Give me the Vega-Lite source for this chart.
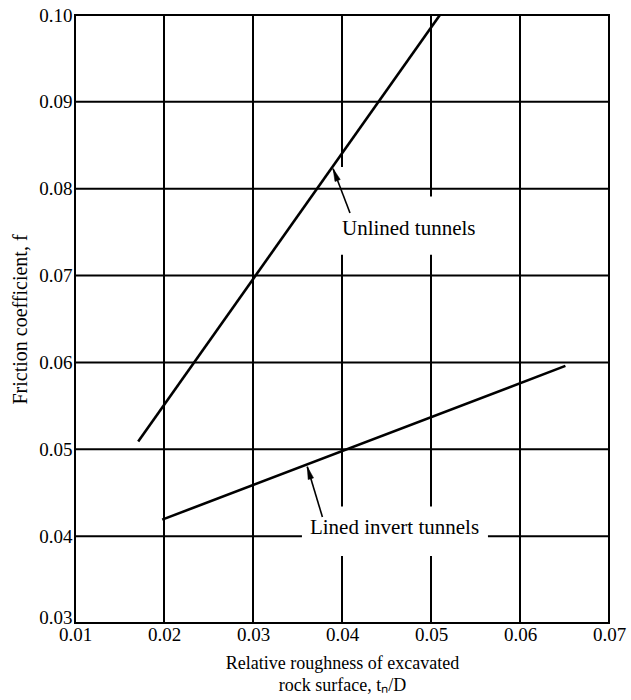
{
  "$schema": "https://vega.github.io/schema/vega-lite/v6.json",
  "width": 534,
  "height": 608,
  "autosize": {"type": "none"},
  "padding": {"left": 75, "top": 15, "right": 22, "bottom": 77},
  "background": "white",
  "config": {
    "view": {"stroke": "black", "strokeWidth": 2},
    "font": "Liberation Serif",
    "axis": {
      "grid": false, "ticks": false, "domain": false, "labelFlush": false,
      "labelFont": "Liberation Serif", "labelFontSize": 19, "labelColor": "black",
      "titleFont": "Liberation Serif", "titleFontSize": 18, "titleColor": "black", "titleFontWeight": "normal"
    }
  },
  "datasets": {
    "vgrid": [
      {"x": 0.02, "y": 0.03, "y2": 0.10},
      {"x": 0.03, "y": 0.03, "y2": 0.10},
      {"x": 0.04, "y": 0.0825, "y2": 0.10},
      {"x": 0.04, "y": 0.0434, "y2": 0.0724},
      {"x": 0.04, "y": 0.03, "y2": 0.0377},
      {"x": 0.05, "y": 0.0791, "y2": 0.10},
      {"x": 0.05, "y": 0.0434, "y2": 0.0724},
      {"x": 0.05, "y": 0.03, "y2": 0.0377},
      {"x": 0.06, "y": 0.03, "y2": 0.10}
    ],
    "hgrid": [
      {"y": 0.09, "x": 0.01, "x2": 0.07},
      {"y": 0.08, "x": 0.01, "x2": 0.07},
      {"y": 0.07, "x": 0.01, "x2": 0.07},
      {"y": 0.06, "x": 0.01, "x2": 0.07},
      {"y": 0.05, "x": 0.01, "x2": 0.07},
      {"y": 0.04, "x": 0.01, "x2": 0.0355},
      {"y": 0.04, "x": 0.0564, "x2": 0.07}
    ],
    "curves": [
      {"series": "Unlined tunnels", "x": 0.0171, "y": 0.0509},
      {"series": "Unlined tunnels", "x": 0.0510, "y": 0.1000},
      {"series": "Lined invert tunnels", "x": 0.0198, "y": 0.0419},
      {"series": "Lined invert tunnels", "x": 0.0651, "y": 0.0596}
    ],
    "arrows": [
      {"name": "Unlined tunnels", "x": 0.0409, "y": 0.0772, "x2": 0.0390, "y2": 0.0823},
      {"name": "Lined invert tunnels", "x": 0.0378, "y": 0.0422, "x2": 0.0361, "y2": 0.0480}
    ],
    "labels": [
      {"label": "Unlined tunnels", "x": 0.0475, "y": 0.0747},
      {"label": "Lined invert tunnels", "x": 0.0459, "y": 0.0402}
    ]
  },
  "layer": [
    {
      "data": {"name": "vgrid"},
      "mark": {"type": "rule", "stroke": "black", "strokeWidth": 2},
      "encoding": {
        "x": {"field": "x", "type": "quantitative",
              "scale": {"domain": [0.01, 0.07], "nice": false, "zero": false},
              "axis": {"values": [0.01, 0.02, 0.03, 0.04, 0.05, 0.06, 0.07], "format": ".2f", "labelPadding": 2, "titlePadding": 10, "titleLineHeight": 22,
                       "title": ["Relative roughness of excavated", "rock surface, tₙ/D"]}},
        "y": {"field": "y", "type": "quantitative",
              "scale": {"domain": [0.03, 0.10], "nice": false, "zero": false},
              "axis": {"values": [0.03, 0.04, 0.05, 0.06, 0.07, 0.08, 0.09, 0.10], "format": ".2f", "labelPadding": 3, "titlePadding": 8, "titleFontSize": 20,
                       "labelBaseline": {"condition": {"test": "datum.value <= 0.031", "value": "alphabetic"}, "value": "middle"},
                       "title": "Friction coefficient, f"}},
        "y2": {"field": "y2"}
      }
    },
    {
      "data": {"name": "hgrid"},
      "mark": {"type": "rule", "stroke": "black", "strokeWidth": 2},
      "encoding": {
        "x": {"field": "x", "type": "quantitative"},
        "x2": {"field": "x2"},
        "y": {"field": "y", "type": "quantitative"}
      }
    },
    {
      "data": {"name": "curves"},
      "mark": {"type": "line", "stroke": "black", "strokeWidth": 2.6},
      "encoding": {
        "x": {"field": "x", "type": "quantitative"},
        "y": {"field": "y", "type": "quantitative"},
        "detail": {"field": "series"}
      }
    },
    {
      "data": {"name": "arrows"},
      "mark": {"type": "rule", "stroke": "black", "strokeWidth": 1.6},
      "encoding": {
        "x": {"field": "x", "type": "quantitative"},
        "y": {"field": "y", "type": "quantitative"},
        "x2": {"field": "x2"},
        "y2": {"field": "y2"}
      }
    },
    {
      "data": {"name": "arrows"},
      "transform": [{"filter": "datum.name === 'Unlined tunnels'"}],
      "mark": {"type": "point", "shape": "M0,0L0.4,1.8L-0.4,1.8Z", "size": 196, "filled": true, "fill": "black", "stroke": "black", "strokeWidth": 0.5, "opacity": 1, "angle": 339},
      "encoding": {
        "x": {"field": "x2", "type": "quantitative"},
        "y": {"field": "y2", "type": "quantitative"}
      }
    },
    {
      "data": {"name": "arrows"},
      "transform": [{"filter": "datum.name === 'Lined invert tunnels'"}],
      "mark": {"type": "point", "shape": "M0,0L0.4,1.8L-0.4,1.8Z", "size": 196, "filled": true, "fill": "black", "stroke": "black", "strokeWidth": 0.5, "opacity": 1, "angle": 343.6},
      "encoding": {
        "x": {"field": "x2", "type": "quantitative"},
        "y": {"field": "y2", "type": "quantitative"}
      }
    },
    {
      "data": {"name": "labels"},
      "mark": {"type": "text", "font": "Liberation Serif", "fontSize": 21, "align": "center", "baseline": "alphabetic", "fill": "black"},
      "encoding": {
        "x": {"field": "x", "type": "quantitative"},
        "y": {"field": "y", "type": "quantitative"},
        "text": {"field": "label"}
      }
    }
  ]
}
